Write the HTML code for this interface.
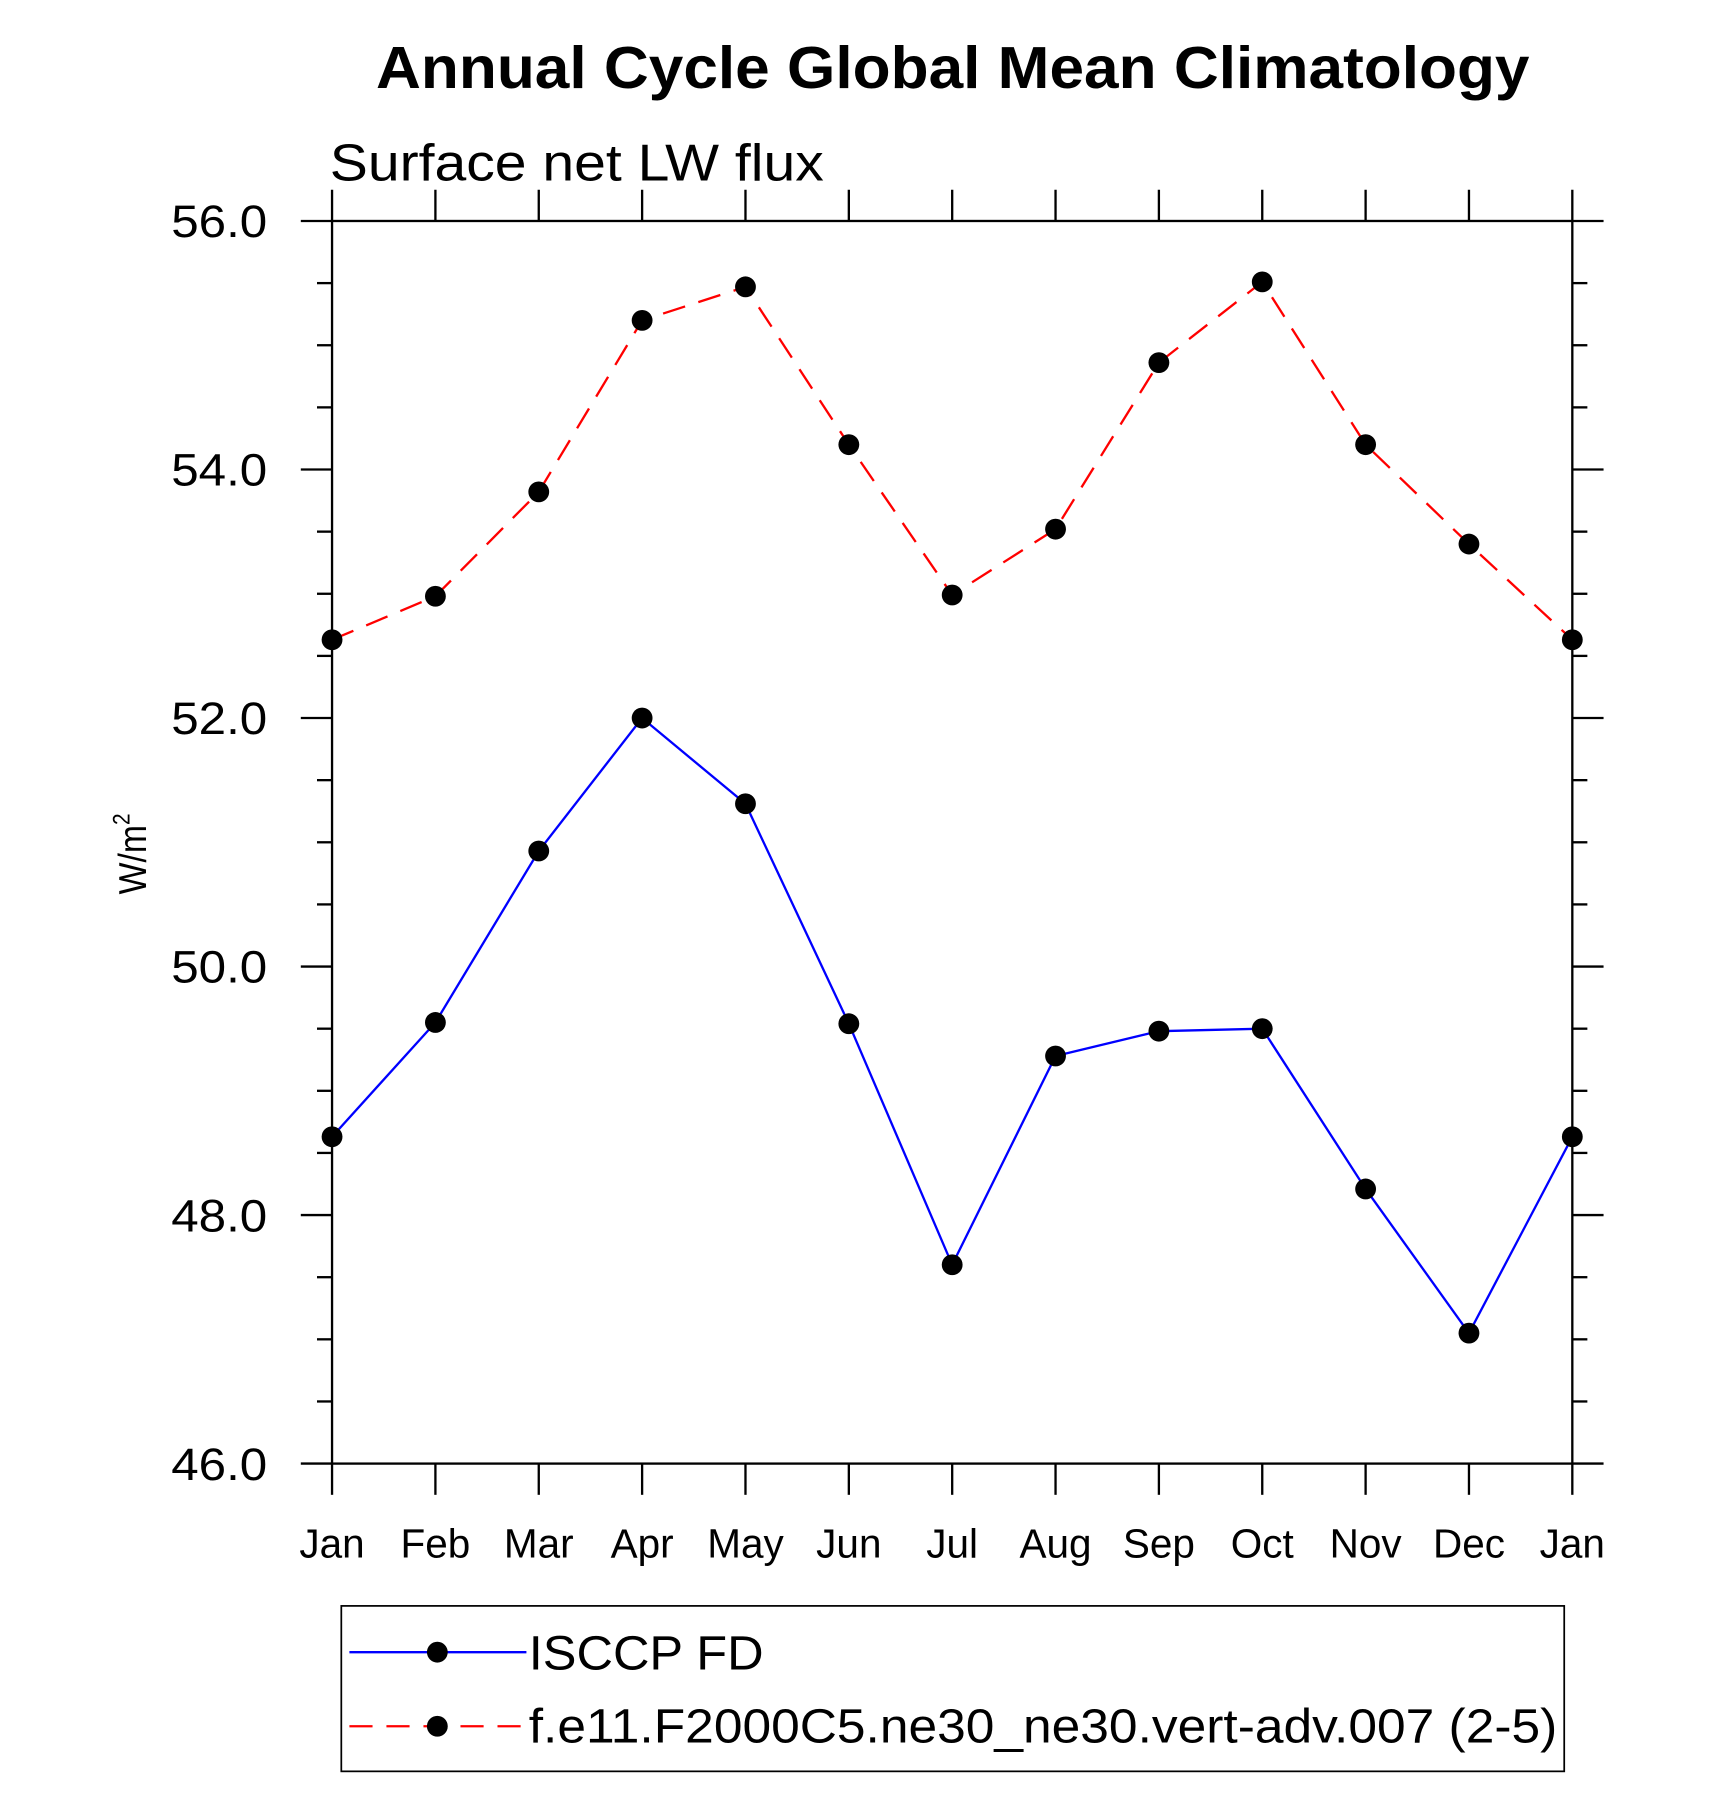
<!DOCTYPE html>
<html><head><meta charset="utf-8"><style>
html,body{margin:0;padding:0;background:#fff}
svg{display:block}
text{font-family:"Liberation Sans",Arial,sans-serif;fill:#000}
</style></head><body>
<svg id="chart" width="1710" height="1813" viewBox="0 0 1478 1567" preserveAspectRatio="none" xmlns="http://www.w3.org/2000/svg">
<text x="325" y="76" font-size="51" font-weight="bold" textLength="997" lengthAdjust="spacingAndGlyphs">Annual Cycle Global Mean Climatology</text>
<text x="285" y="156" font-size="45" textLength="427" lengthAdjust="spacingAndGlyphs">Surface net LW flux</text>
<text transform="translate(126,773) rotate(-90)" font-size="34" textLength="70" lengthAdjust="spacingAndGlyphs">W/m<tspan font-size="21" dy="-14">2</tspan></text>
<g id="axes"></g>
<g id="series"></g>
<g id="legend">
<rect x="295" y="1388" width="1057" height="143" fill="none" stroke="#000" stroke-width="1.5"/>
<g>
<line x1="302" y1="1428" x2="455" y2="1428" stroke="#0000ff" stroke-width="2"/>
<circle cx="378" cy="1428" r="9" fill="#000"/>
<text x="457" y="1443" font-size="42" textLength="203" lengthAdjust="spacingAndGlyphs">ISCCP FD</text></g>
<g>
<line x1="302" y1="1492" x2="455" y2="1492" stroke="#ff0000" stroke-width="2" stroke-dasharray="20,12"/>
<circle cx="378" cy="1492" r="9" fill="#000"/>
<text x="457" y="1506" font-size="42" textLength="889" lengthAdjust="spacingAndGlyphs">f.e11.F2000C5.ne30_ne30.vert-adv.007 (2-5)</text></g>
</g>
</svg>
<script>
const months = ["Jan","Feb","Mar","Apr","May","Jun","Jul","Aug","Sep","Oct","Nov","Dec","Jan"];
const isccpValues = [48.63,49.55,50.93,52.0,51.31,49.54,47.60,49.28,49.48,49.50,48.21,47.05,48.63];
const modelValues = [52.63,52.98,53.82,55.20,55.47,54.20,52.99,53.52,54.86,55.51,54.20,53.40,52.63];
const yTicks = [46,48,50,52,54,56];
const yTickLabels = ["46.0","48.0","50.0","52.0","54.0","56.0"];
const yMin = 46, yMax = 56;

const NS = "http://www.w3.org/2000/svg";
const X0 = 287, X1 = 1359, Y0 = 1265, Y1 = 191;
function xs(i){ return X0 + (X1-X0)*i/(months.length-1); }
function ys(v){ return Y0 - (Y0-Y1)*(v-yMin)/(yMax-yMin); }
function mk(tag, attrs, parent){
  const e = document.createElementNS(NS, tag);
  for (const k in attrs) e.setAttribute(k, attrs[k]);
  parent.appendChild(e); return e;
}
const axes = document.getElementById('axes');
const frame = mk('rect', {x:X0, y:Y1, width:X1-X0, height:Y0-Y1, fill:'none', stroke:'#000', 'stroke-width':2}, axes);


for (let v = yMin; v <= yMax + 1e-9; v += 0.5) {
  const major = Math.abs(v - Math.round(v/2)*2) < 1e-9;
  const len = major ? 27 : 13;
  const y = ys(v);
  const t1 = mk('line', {x1:X0-len, y1:y, x2:X0, y2:y, stroke:'#000', 'stroke-width':2}, axes);
  
  
  const t2 = mk('line', {x1:X1, y1:y, x2:X1+len, y2:y, stroke:'#000', 'stroke-width':2}, axes);
  
  
}
yTicks.forEach((v, i) => {
  const t = mk('text', {x:231, y:ys(v)+14, 'text-anchor':'end', 'font-size':39, textLength:83, lengthAdjust:'spacingAndGlyphs'}, axes);
  t.textContent = yTickLabels[i];
  
  
});
months.forEach((m, i) => {
  const x = xs(i);
  const b = mk('line', {x1:x, y1:Y0, x2:x, y2:Y0+27, stroke:'#000', 'stroke-width':2}, axes);
  
  
  const t = mk('line', {x1:x, y1:Y1-27, x2:x, y2:Y1, stroke:'#000', 'stroke-width':2}, axes);
  
  
  const l = mk('text', {x:x, y:1346, 'text-anchor':'middle', 'font-size':35}, axes);
  l.textContent = m;
  
  
});
const series = document.getElementById('series');
function drawSeries(vals, color, dash, name){
  const g = mk('g', {}, series);
  
  
  const pts = vals.map((v,i) => xs(i)+','+ys(v)).join(' ');
  const pl = mk('polyline', {points:pts, fill:'none', stroke:color, 'stroke-width':2}, g);
  if (dash) pl.setAttribute('stroke-dasharray', dash);
  
  
  vals.forEach((v,i) => {
    const c = mk('circle', {cx:xs(i), cy:ys(v), r:9, fill:'#000'}, g);
    
    
  });
}
drawSeries(modelValues, '#ff0000', '20,12', 'model-series');
drawSeries(isccpValues, '#0000ff', null, 'isccp-series');
</script>
</body></html>
